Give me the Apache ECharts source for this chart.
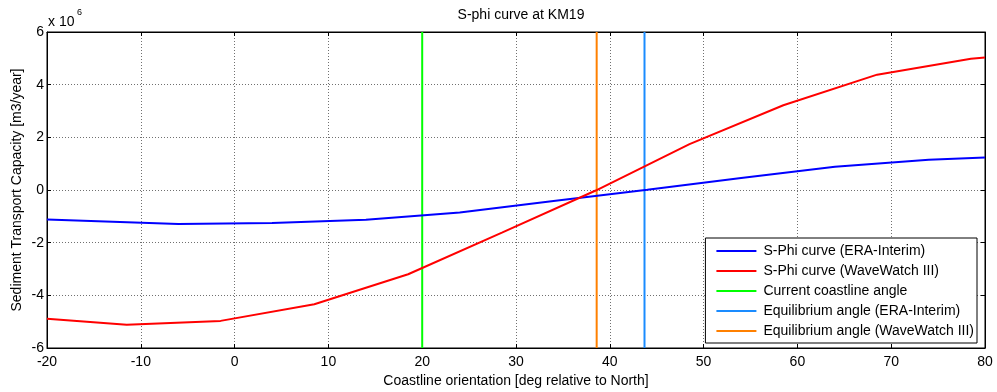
<!DOCTYPE html>
<html><head><meta charset="utf-8">
<script src="https://cdn.jsdelivr.net/npm/echarts@6/dist/echarts.min.js"></script>
<style>html,body{margin:0;padding:0;background:#fff}#c{width:997px;height:392px}</style>
</head><body><div id="c"></div>
<script>
// Data (units of 1e6 m3/year)
var eraX = [-20, -6, 4, 14, 24, 34, 44, 54, 64, 74, 80];
var eraY = [-1.12, -1.29, -1.25, -1.13, -0.85, -0.42, 0.01, 0.46, 0.88, 1.15, 1.23];
var wwX = [-20, -11.5, -1.5, 8.5, 18.5, 28.5, 38.5, 48.5, 58.5, 68.5, 78.5, 80];
var wwY = [-4.89, -5.12, -4.97, -4.34, -3.2, -1.62, -0.02, 1.74, 3.22, 4.38, 4.98, 5.03];
var currentAngle = 20;
var eqEraAngle = 43.7;
var eqWwAngle = 38.6;
var xTicks = [-20, 80, 10];
var yTicks = [-6, 6, 2];

var F = 'Liberation Sans, Arial, sans-serif';
var FS = 14;
function pairs(xs, ys){ return xs.map(function(x,i){ return [x, ys[i]]; }); }
function vline(x){ return [[x, yTicks[0]], [x, yTicks[1]]]; }

var chart = echarts.init(document.getElementById('c'), null, {renderer:'canvas'});
var axisCommon = {
  type:'value',
  axisLine:{show:true, onZero:false, lineStyle:{color:'#000', width:1}},
  axisTick:{show:true, inside:true, length:4, lineStyle:{color:'#000'}},
  axisLabel:{color:'#000', fontFamily:F, fontSize:FS},
};
var grid = {show:true, lineStyle:{color:'#707070', type:[1,2], width:1}};
chart.setOption({
  animation:false,
  backgroundColor:'#fff',
  title:{text:'S-phi curve at KM19', left:516, top:3, textAlign:'center',
    textStyle:{fontFamily:F, fontSize:FS, fontWeight:'normal', color:'#000'}},
  grid:{left:47, right:12, top:32, bottom:44, show:true, borderColor:'#000', borderWidth:1,
    backgroundColor:'#fff', outerBoundsMode:'none', containLabel:false},
  xAxis:[
    Object.assign({}, axisCommon, {min:xTicks[0], max:xTicks[1], interval:xTicks[2], position:'bottom',
      name:'Coastline orientation [deg relative to North]', nameLocation:'middle', nameGap:25,
      nameTextStyle:{fontFamily:F, fontSize:FS, color:'#000'},
      axisLabel:{color:'#000', fontFamily:F, fontSize:FS, margin:7},
      splitLine:grid}),
    Object.assign({}, axisCommon, {min:xTicks[0], max:xTicks[1], interval:xTicks[2], position:'top',
      axisLabel:{show:false}, splitLine:{show:false}})
  ],
  yAxis:[
    Object.assign({}, axisCommon, {min:yTicks[0], max:yTicks[1], interval:yTicks[2], position:'left',
      name:'Sediment Transport Capacity [m3/year]', nameLocation:'middle', nameGap:23, nameMoveOverlap:false,
      nameTextStyle:{fontFamily:F, fontSize:FS, color:'#000'},
      axisLabel:{color:'#000', fontFamily:F, fontSize:FS, margin:3},
      splitLine:grid}),
    Object.assign({}, axisCommon, {min:yTicks[0], max:yTicks[1], interval:yTicks[2], position:'right',
      axisLabel:{show:false}, splitLine:{show:false}})
  ],
  legend:{
    orient:'vertical', right:20, bottom:49, icon:'rect',
    backgroundColor:'#fff', borderColor:'#000', borderWidth:1,
    padding:[6, 3, 5, 11], itemGap:6, itemWidth:40, itemHeight:2,
    textStyle:{fontFamily:F, fontSize:FS, color:'#000', lineHeight:14, padding:[0,0,0,2]},
    data:['S-Phi curve (ERA-Interim)','S-Phi curve (WaveWatch III)','Current coastline angle','Equilibrium angle (ERA-Interim)','Equilibrium angle (WaveWatch III)']
  },
  graphic:[
    {type:'text', left:48, top:15, style:{text:'x 10', fontFamily:F, fontSize:FS, fill:'#000'}},
    {type:'text', left:77, top:8, style:{text:'6', fontFamily:F, fontSize:9, fill:'#000'}}
  ],
  series:[
    {name:'Current coastline angle', type:'line', data:vline(currentAngle), symbol:'none', z:3,
      lineStyle:{color:'#00ff00', width:2}, itemStyle:{color:'#00ff00'}},
    {name:'Equilibrium angle (ERA-Interim)', type:'line', data:vline(eqEraAngle), symbol:'none', z:3,
      lineStyle:{color:'#1a8cff', width:2}, itemStyle:{color:'#1a8cff'}},
    {name:'Equilibrium angle (WaveWatch III)', type:'line', data:vline(eqWwAngle), symbol:'none', z:3,
      lineStyle:{color:'#ff8000', width:2}, itemStyle:{color:'#ff8000'}},
    {name:'S-Phi curve (ERA-Interim)', type:'line', data:pairs(eraX, eraY), symbol:'none', z:4,
      lineStyle:{color:'#0000ff', width:2}, itemStyle:{color:'#0000ff'}},
    {name:'S-Phi curve (WaveWatch III)', type:'line', data:pairs(wwX, wwY), symbol:'none', z:4,
      lineStyle:{color:'#ff0000', width:2}, itemStyle:{color:'#ff0000'}}
  ]
});
</script></body></html>
